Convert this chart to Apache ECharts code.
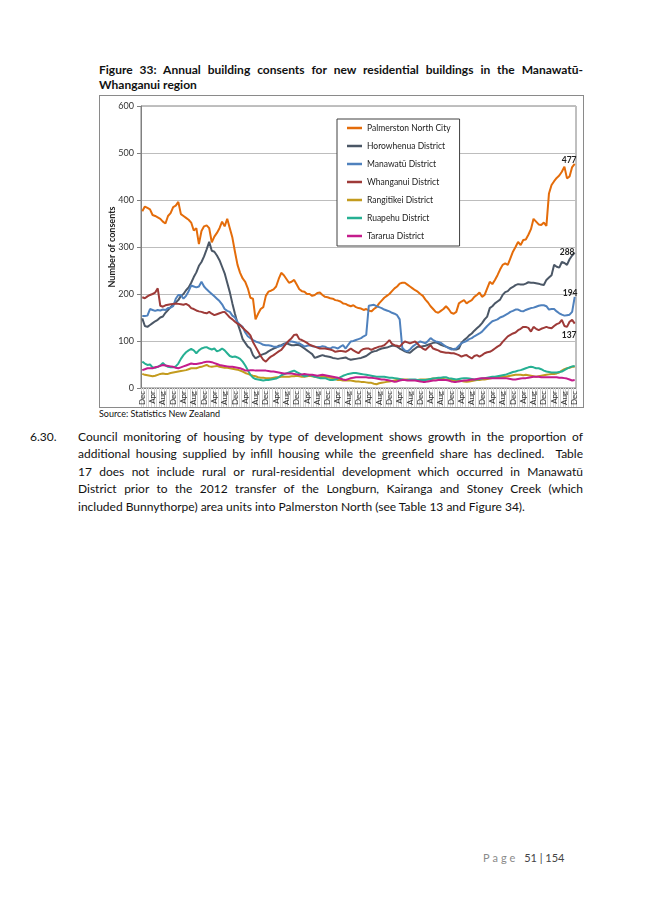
<!DOCTYPE html>
<html><head><meta charset="utf-8">
<script src="https://cdn.jsdelivr.net/npm/echarts@6/dist/echarts.min.js"></script>
<style>
html,body{margin:0;padding:0;background:#fff;}
body{width:645px;height:912px;position:relative;overflow:hidden;font-family:Lato,'Liberation Sans',sans-serif;color:#111;}
.abs{position:absolute;}
#title{left:99px;top:63px;width:484px;font-weight:bold;font-size:12px;line-height:14.5px;}
.jl{text-align:justify;text-align-last:justify;}
#frame{left:99px;top:95px;width:483px;height:311px;border:1px solid #8a8a8a;}
#chart{width:483px;height:311px;}
#source{left:99px;top:408px;font-size:9px;line-height:11px;}
#num{left:30px;top:428px;font-size:12px;line-height:17.4px;}
#para{left:78px;top:428px;width:505px;font-size:12px;line-height:17.4px;}
#page{left:483px;top:851px;font-size:11px;line-height:13px;color:#444;}
#page .pg{color:#8a8a8a;letter-spacing:3px;}
</style>
</head><body>
<div id="title" class="abs">
<div class="jl">Figure 33: Annual building consents for new residential buildings in the Manawatū-</div>
<div>Whanganui region</div>
</div>
<div id="frame" class="abs"><div id="chart"></div></div>
<div id="source" class="abs">Source: Statistics New Zealand</div>
<div id="num" class="abs">6.30.</div>
<div id="para" class="abs">
<div class="jl">Council monitoring of housing by type of development shows growth in the proportion of</div>
<div class="jl">additional housing supplied by infill housing while the greenfield share has declined.&nbsp; Table</div>
<div class="jl">17 does not include rural or rural-residential development which occurred in Manawatū</div>
<div class="jl">District prior to the 2012 transfer of the Longburn, Kairanga and Stoney Creek (which</div>
<div>included Bunnythorpe) area units into Palmerston North (see Table 13 and Figure 34).</div>
</div>
<div id="page" class="abs"><span class="pg">Page </span>51 | 154</div>
<script>
// Month label cycle (first point is a December), every month is one category
const monthCycle = ['Dec','Jan','Feb','Mar','Apr','May','Jun','Jul','Aug','Sep','Oct','Nov'];
const seriesNames = ['Palmerston North City','Horowhenua District','Manawatū District','Whanganui District','Rangitīkei District','Ruapehu District','Tararua District'];

const palmerston = [376,386,383,380,368,366,363,360,354,350,366,372,
385,388,396,370,366,362,358,352,335,340,306,334,
344,346,340,310,322,330,340,354,344,360,340,320,
290,262,245,233,226,212,192,190,146,158,168,172,
196,205,207,210,216,232,245,240,232,224,226,230,
220,210,206,205,200,200,196,198,202,203,198,194,
193,191,190,187,186,184,180,179,176,174,176,172,
170,169,166,168,165,163,168,172,180,186,192,196,
200,206,212,216,222,224,224,220,216,212,208,205,
200,196,188,182,174,168,162,160,164,168,174,168,
160,158,162,180,184,187,180,184,187,194,198,203,
194,198,212,226,221,230,240,252,262,265,262,276,
290,300,311,304,315,316,326,338,360,354,348,347,
352,345,414,432,440,447,452,460,471,446,450,470,
477];
const horowhenua = [148,132,130,134,138,142,145,150,152,160,166,172,
177,182,187,196,200,208,214,224,236,246,260,268,
280,295,311,292,290,282,272,258,244,224,204,180,
158,138,122,104,96,88,84,70,63,66,70,72,
74,78,81,84,86,90,91,94,95,93,91,91,
92,91,88,84,80,76,72,64,66,68,70,68,
67,66,64,63,62,63,64,65,62,60,61,62,
63,64,66,68,72,76,78,79,82,84,85,86,
88,90,90,88,84,81,78,76,75,80,84,88,
88,89,90,92,94,96,97,95,92,90,88,86,
84,82,82,84,96,102,106,112,116,122,127,132,
138,146,152,170,174,180,184,188,198,204,206,212,
215,219,221,220,220,222,225,224,224,223,222,220,
219,230,235,240,262,258,256,268,266,262,274,282,
288];
const manawatu = [153,153,154,168,166,164,166,165,167,166,170,171,
174,190,198,198,190,196,206,218,216,214,216,226,
216,210,205,200,195,190,185,178,168,164,162,154,
150,140,134,130,118,110,106,102,99,97,95,92,
91,91,90,88,88,88,90,92,96,99,99,98,
96,95,92,88,90,91,89,88,87,87,89,88,
85,84,87,86,84,88,91,84,92,99,100,102,
104,106,110,113,175,176,177,174,172,170,167,165,
163,160,158,155,146,86,80,78,82,88,92,96,
99,97,95,100,106,102,99,98,96,92,88,85,
82,83,84,90,95,98,100,104,106,110,113,116,
120,126,132,137,142,144,146,150,152,155,158,162,
164,167,167,164,163,166,168,170,171,173,175,176,
176,174,167,168,168,163,159,156,154,155,156,162,
194];
const whanganui = [193,191,195,198,200,203,212,175,173,176,177,178,
179,180,179,178,177,179,176,170,168,165,163,162,
160,159,162,158,155,157,159,161,162,156,150,146,
141,137,134,128,123,118,112,98,88,78,68,60,
56,62,67,70,74,78,81,88,95,101,106,113,
114,104,102,99,96,92,90,88,86,84,84,84,
83,82,80,77,78,79,78,77,80,84,80,77,
74,80,83,84,84,81,84,86,88,89,91,96,
102,94,91,90,88,94,99,97,95,97,99,94,
88,84,81,86,91,84,82,80,77,76,75,75,
74,74,72,70,67,69,70,66,63,68,70,67,
70,74,76,77,80,84,88,91,98,104,110,113,
116,118,123,126,130,130,128,120,130,126,123,126,
128,130,128,127,132,136,138,145,132,130,141,145,
137];
const rangitikei = [30,28,27,26,25,26,28,30,31,30,30,32,
33,34,35,36,37,38,40,42,42,42,44,45,
47,49,46,45,46,47,45,44,43,43,42,41,
40,39,37,35,32,30,28,26,25,23,22,22,
21,21,21,22,23,23,24,24,24,24,25,25,
26,25,24,24,25,26,25,24,23,23,24,24,
23,22,21,19,17,17,16,16,16,16,15,14,
14,13,13,12,11,11,9,8,10,11,12,13,
14,15,16,17,17,18,18,18,17,17,17,17,
18,18,18,18,19,20,20,21,20,19,18,18,
17,17,16,16,15,14,13,14,15,16,17,17,
18,18,19,20,21,23,23,24,24,24,25,26,
27,28,28,28,27,28,27,26,25,24,25,26,
27,28,29,30,30,31,33,37,40,42,43,45,
45];
const ruapehu = [56,52,49,50,44,43,45,48,53,48,45,44,
44,46,52,62,70,76,80,83,80,74,80,84,
86,87,84,82,84,78,80,84,80,74,68,66,
67,65,62,56,48,38,28,22,19,18,17,16,
17,17,18,19,20,23,27,29,31,33,35,37,
34,31,28,25,26,28,26,24,23,21,21,21,
19,17,17,18,20,23,26,28,30,31,32,32,
31,30,29,28,27,26,25,24,24,24,24,23,
22,22,21,20,19,18,17,17,18,18,18,17,
17,17,17,18,19,20,21,22,22,23,23,21,
20,19,18,19,20,21,21,20,19,18,18,19,
20,21,22,23,24,24,25,26,27,28,30,32,
34,35,37,38,40,42,44,45,44,42,42,40,
37,35,34,33,33,33,34,35,38,41,44,46,
47];
const tararua = [38,40,42,42,42,44,45,47,49,48,47,46,
45,43,42,44,46,48,50,52,51,51,52,53,
55,56,56,55,53,51,49,48,47,46,45,45,
44,43,42,40,37,37,38,38,37,37,37,37,
37,36,35,35,34,33,32,31,31,31,31,30,
29,28,29,30,29,28,28,27,26,27,28,27,
26,25,24,23,22,20,18,17,19,21,22,23,
23,23,23,23,22,22,21,20,19,18,18,17,
16,15,13,14,16,17,17,16,16,16,16,15,
14,13,13,14,15,16,16,17,17,17,17,16,
14,13,13,14,15,16,16,17,18,18,19,20,
21,21,21,21,21,21,21,21,21,21,20,19,
18,18,19,20,21,21,22,23,24,24,24,23,
23,23,23,23,23,23,22,22,21,20,18,16,
17];
const yTicks = {min: 0, max: 600, interval: 100};

const categories = palmerston.map((_, i) => monthCycle[i % 12]);
const colors = ['#E46C0A','#4B5766','#4F81BD','#9E3A38','#C39B1E','#26B093','#C41C8C'];
const values = [palmerston, horowhenua, manawatu, whanganui, rangitikei, ruapehu, tararua];
const endOffsets = [[-18,-4],[-20,0],[-17,-4],[-18,12],null,null,null];

const FONT = 'Lato, "Liberation Sans", sans-serif';
const chart = echarts.init(document.getElementById('chart'), null, {renderer: 'canvas'});
chart.setOption({
  animation: false,
  textStyle: {fontFamily: FONT},
  grid: {left: 41, right: 7, top: 10, bottom: 19, show: true, borderColor: '#808080', borderWidth: 1,
         outerBoundsMode: 'none', containLabel: false},
  legend: {
    data: seriesNames, orient: 'vertical', left: 237, top: 23,
    icon: 'rect', itemWidth: 15, itemHeight: 2.5, itemGap: 8,
    padding: [4, 9, 5, 10], borderColor: '#404040', borderWidth: 1, backgroundColor: '#fff',
    textStyle: {fontSize: 8.5, lineHeight: 10, color: '#222', fontFamily: FONT}
  },
  xAxis: {
    type: 'category', data: categories, boundaryGap: true,
    axisLine: {lineStyle: {color: '#808080'}},
    axisTick: {show: true, interval: 0, length: 19, lineStyle: {color: '#D4D4D4'}},
    axisLabel: {interval: 3, rotate: 90, fontSize: 8, color: '#333', margin: 3, fontFamily: FONT}
  },
  yAxis: {
    type: 'value', min: yTicks.min, max: yTicks.max, interval: yTicks.interval,
    name: 'Number of consents', nameLocation: 'middle', nameGap: 24, nameMoveOverlap: false,
    nameTextStyle: {fontSize: 9, fontWeight: 'bold', color: '#222', fontFamily: FONT},
    axisLine: {show: true, lineStyle: {color: '#808080'}},
    axisTick: {show: true, length: 4, lineStyle: {color: '#808080'}},
    axisLabel: {fontSize: 9, color: '#333', margin: 7, fontFamily: FONT},
    splitLine: {lineStyle: {color: '#BDBDBD'}}
  },
  series: seriesNames.map((name, k) => ({
    type: 'line', name: name, data: values[k], showSymbol: false, symbol: 'none',
    lineStyle: {width: 2, color: colors[k]}, itemStyle: {color: colors[k]},
    z: 2 + k,
    endLabel: endOffsets[k] ? {
      show: true, formatter: '{c}', fontSize: 8.5, fontWeight: 'bold', color: '#222',
      align: 'left', verticalAlign: 'middle', distance: 5, offset: endOffsets[k], fontFamily: FONT
    } : {show: false}
  }))
});
</script>
</body></html>
